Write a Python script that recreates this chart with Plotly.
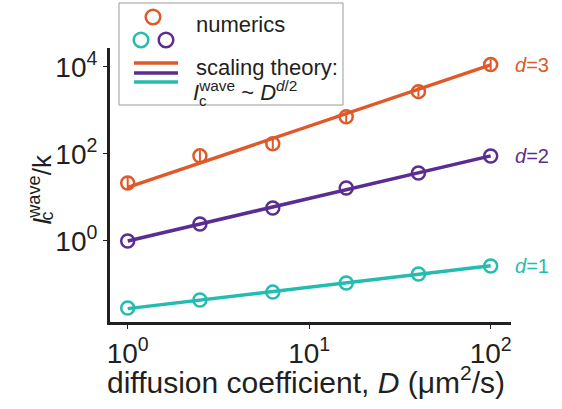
import plotly.graph_objects as go

# ---------------- data ----------------
D_vals = [1.0, 2.5, 6.3, 16.0, 40.0, 100.0]

num_d3 = [21.5, 90, 170, 710, 2680, 11200]
num_d3_err_hi = [8, 30, 55, 230, 850, 3500]
num_d3_err_lo = [6, 22, 40, 170, 640, 2700]
num_d2 = [1.0, 2.46, 5.7, 16.5, 36.5, 89]
num_d1 = [0.029, 0.044, 0.067, 0.108, 0.175, 0.267]

theory_D = [1.0, 100.0]
theory_d3 = [17.0, 11000]
theory_d2 = [1.0, 90]
theory_d1 = [0.028, 0.27]

x_tickvals = [1, 10, 100]
x_ticktext = ["10<sup>0</sup>", "10<sup>1</sup>", "10<sup>2</sup>"]
y_tickvals = [1, 100, 10000]
y_ticktext = ["10<sup>0</sup>", "10<sup>2</sup>", "10<sup>4</sup>"]

C3 = "#DE5A2A"
C2 = "#5B2D92"
C1 = "#22BDAE"
FONT = "Liberation Sans, Arial, Helvetica, sans-serif"
AX = "#231F20"
TXT = "#231F20"

# plot-area pixel geometry
L, R, T, B = 110, 511, 48, 322
W, H = 562, 409


def px(x):
    return (x - L) / (R - L)


def py(y):
    return (B - y) / (B - T)


fig = go.Figure()

series = [
    (num_d3, C3, dict(type="data", symmetric=False, array=num_d3_err_hi,
                      arrayminus=num_d3_err_lo, color=C3, thickness=2, width=0)),
    (num_d2, C2, None),
    (num_d1, C1, None),
]
for vals, col, err in series:
    fig.add_trace(go.Scatter(
        x=D_vals, y=vals, mode="markers",
        marker=dict(symbol="circle-open", size=13, color=col, line=dict(width=2.5, color=col)),
        error_y=err if err else dict(visible=False),
        showlegend=False, hoverinfo="skip"))

for vals, col in [(theory_d3, C3), (theory_d2, C2), (theory_d1, C1)]:
    fig.add_trace(go.Scatter(
        x=theory_D, y=vals, mode="lines",
        line=dict(color=col, width=3.5), showlegend=False, hoverinfo="skip"))

fig.update_xaxes(
    type="log", range=[-0.0975, 2.112],
    tickvals=x_tickvals, ticktext=x_ticktext,
    ticks="outside", ticklen=4, tickwidth=1, tickcolor=AX,
    showline=True, linewidth=3, linecolor=AX, showgrid=False, zeroline=False,
    tickfont=dict(family=FONT, size=28, color=TXT),
)
fig.update_yaxes(
    type="log", range=[-1.86, 4.43],
    tickvals=y_tickvals, ticktext=y_ticktext,
    ticks="outside", ticklen=4, tickwidth=1, tickcolor=AX,
    showline=True, linewidth=3, linecolor=AX, showgrid=False, zeroline=False,
    tickfont=dict(family=FONT, size=28, color=TXT),
)

annotations = [
    # x-axis title
    dict(x=px(306), y=py(380), xref="paper", yref="paper", xanchor="center", yanchor="middle",
         text="diffusion coefficient, <i>D</i> (μm<sup>2</sup>/s)", showarrow=False,
         font=dict(family=FONT, size=30, color=TXT)),
    # y-axis title (rotated)
    dict(x=px(41), y=py(190), xref="paper", yref="paper", xanchor="center", yanchor="middle",
         text="<i>I</i><sup>wave</sup>/k", textangle=-90, showarrow=False,
         font=dict(family=FONT, size=26, color=TXT)),
    dict(x=px(46.5), y=py(216), xref="paper", yref="paper", xanchor="center", yanchor="middle",
         text="c", textangle=-90, showarrow=False,
         font=dict(family=FONT, size=18, color=TXT)),
    # curve labels
    dict(x=2, y=4.05, xref="x", yref="y", xanchor="left", yanchor="middle", xshift=22,
         text="<i>d</i>=3", showarrow=False, font=dict(family=FONT, size=20, color=C3)),
    dict(x=2, y=1.95, xref="x", yref="y", xanchor="left", yanchor="middle", xshift=22,
         text="<i>d</i>=2", showarrow=False, font=dict(family=FONT, size=20, color=C2)),
    dict(x=2, y=-0.57, xref="x", yref="y", xanchor="left", yanchor="middle", xshift=22,
         text="<i>d</i>=1", showarrow=False, font=dict(family=FONT, size=20, color=C1)),
    # legend texts
    dict(x=px(194), y=py(24.5), xref="paper", yref="paper", xanchor="left", yanchor="middle",
         text="numerics", showarrow=False, font=dict(family=FONT, size=22, color=TXT)),
    dict(x=px(194), y=py(67), xref="paper", yref="paper", xanchor="left", yanchor="middle",
         text="scaling theory:", showarrow=False, font=dict(family=FONT, size=22, color=TXT)),
    dict(x=px(191), y=py(91), xref="paper", yref="paper", xanchor="left", yanchor="middle",
         text="<i>I</i><sup>wave</sup> ~ <i>D</i><sup><i>d</i>/2</sup>", showarrow=False,
         font=dict(family=FONT, size=22, color=TXT)),
    dict(x=px(203), y=py(100), xref="paper", yref="paper", xanchor="center", yanchor="middle",
         text="c", showarrow=False, font=dict(family=FONT, size=15, color=TXT)),
]

shapes = [
    # legend box
    dict(type="rect", xref="paper", yref="paper", x0=px(119), x1=px(343), y0=py(3), y1=py(105),
         line=dict(color="#9A9A9A", width=1), fillcolor="white", layer="above"),
]
for cx, cy, col in [(153, 17, C3), (141, 40, C1), (166, 40, C2)]:
    r = 7.3
    shapes.append(dict(type="circle", xref="paper", yref="paper",
                       x0=px(cx - r), x1=px(cx + r), y0=py(cy + r), y1=py(cy - r),
                       line=dict(color=col, width=2.5), layer="above"))
for yy, col in [(63, C3), (73, C2), (82, C1)]:
    shapes.append(dict(type="line", xref="paper", yref="paper",
                       x0=px(134), x1=px(178), y0=py(yy), y1=py(yy),
                       line=dict(color=col, width=3.5), layer="above"))

fig.update_layout(
    width=W, height=H,
    margin=dict(l=L, r=W - R, t=T, b=H - B, pad=0),
    paper_bgcolor="white", plot_bgcolor="white",
    annotations=annotations, shapes=shapes,
    font=dict(family=FONT),
)

fig.write_html("out.html")
